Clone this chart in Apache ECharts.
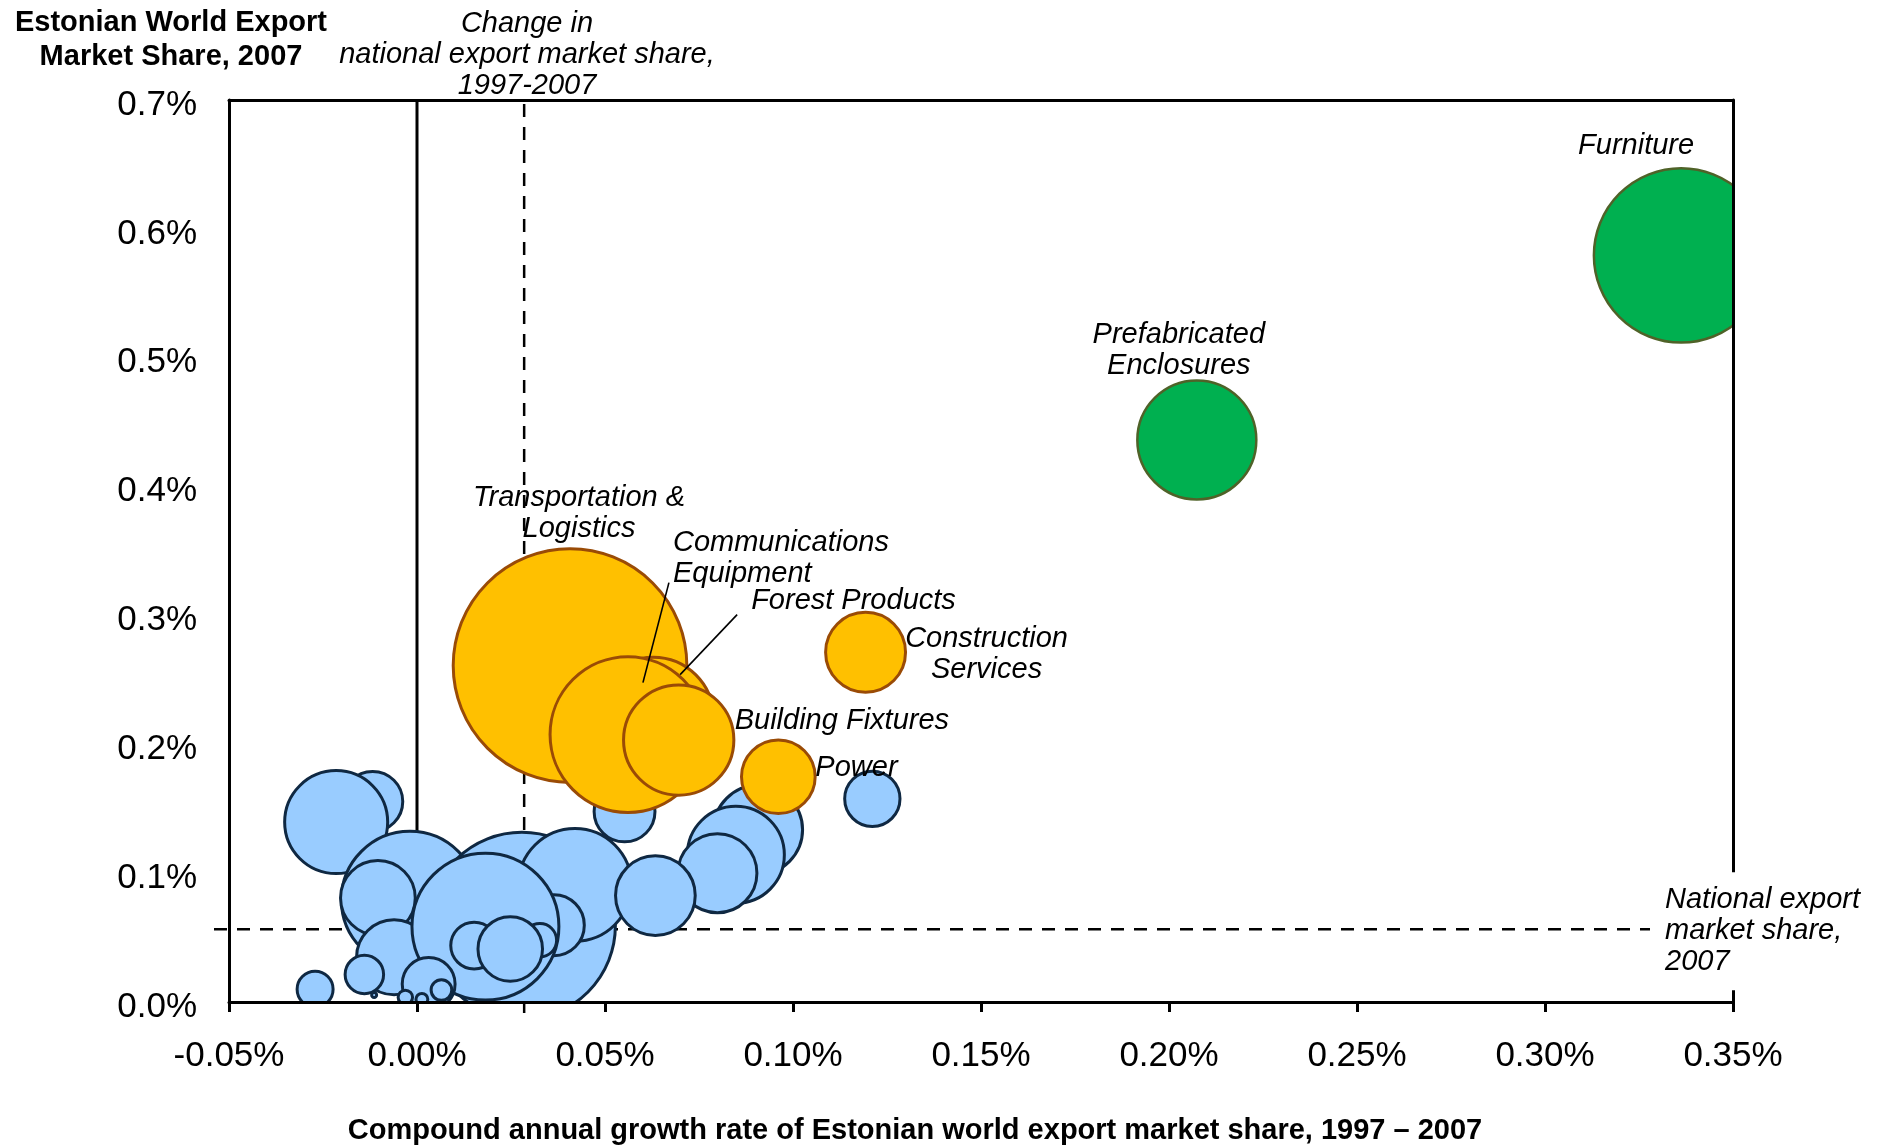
<!DOCTYPE html>
<html>
<head>
<meta charset="utf-8">
<script src="https://cdn.jsdelivr.net/npm/echarts@6/dist/echarts.min.js"></script>
<style>
html,body{margin:0;padding:0;background:#fff;}
#chart{width:1883px;height:1147px;}
</style>
</head>
<body>
<div id="chart"></div>
<script>
// ---------------- data ----------------
const xTickLabels = ['-0.05%', '0.00%', '0.05%', '0.10%', '0.15%', '0.20%', '0.25%', '0.30%', '0.35%'];
const yTickLabels = ['0.0%', '0.1%', '0.2%', '0.3%', '0.4%', '0.5%', '0.6%', '0.7%'];
const xMin = -0.05, xMax = 0.35, xStep = 0.05;
const yMin = 0, yMax = 0.7, yStep = 0.1;

// national reference values (in %)
const nationalShare2007 = 0.0564;
const nationalShareChange = 0.0285;

// other clusters (light blue), drawing order back -> front
const otherGrowth = [-0.0118, -0.0215, -0.0019, -0.0104, -0.0061, -0.0140, -0.0271, -0.0114, 0.0279, 0.0420, 0.0364, 0.0182, 0.0152, 0.0327, 0.0248, 0.0031, 0.0065, -0.0031, 0.0013, 0.0552, 0.0907, 0.0848, 0.0799, 0.0634, 0.1211];
const otherShare  = [0.1556, 0.1396, 0.0793, 0.0808, 0.0347, 0.0214, 0.0099, 0.0054, 0.0591, 0.0909, 0.0596, 0.0585, 0.0438, 0.0479, 0.0412, 0.0140, 0.0093, 0.0036, 0.0021, 0.1479, 0.1336, 0.1142, 0.1000, 0.0826, 0.1577];
const otherSize   = [100, 281, 490, 151, 152, 43, 38, 1.6, 902, 336, 102, 562, 62, 33, 114, 78, 14, 7.6, 5.5, 102, 212, 250, 168, 171, 85];

// highlighted clusters (orange)
const midNames  = ['Transportation &\nLogistics', 'Forest Products', 'Communications\nEquipment', 'Building Fixtures', 'Construction\nServices', 'Power'];
const midGrowth = [0.0407, 0.0628, 0.0561, 0.0696, 0.1193, 0.0961];
const midShare  = [0.2611, 0.2207, 0.2075, 0.2033, 0.2714, 0.1748];
const midSize   = [1400, 384, 630, 321, 172, 147];

// strong clusters (green)
const topNames  = ['Prefabricated\nEnclosures', 'Furniture'];
const topGrowth = [0.2074, 0.3362];
const topShare  = [0.4362, 0.5794];
const topSize   = [372, 787];

// ---------------- styling / layout ----------------
const labelPlacement = {
  'Transportation &\nLogistics': {offset: [9, -152], align: 'center'},
  'Forest Products': {offset: [98, -117], align: 'left'},
  'Communications\nEquipment': {offset: [45, -176], align: 'left'},
  'Building Fixtures': {offset: [56, -19], align: 'left'},
  'Construction\nServices': {offset: [121, 2], align: 'center'},
  'Power': {offset: [37, -9], align: 'left'},
  'Prefabricated\nEnclosures': {offset: [-18, -89], align: 'center'},
  'Furniture': {offset: [-45, -109], align: 'center'}
};
const leaders = {
  'Communications\nEquipment': [[41, -152], [15, -52]],
  'Forest Products': [[84, -103], [27, -43]]
};
const BW = 3;
const FONT = 'Liberation Sans, Arial, sans-serif';
const labelFont = 'italic 29px ' + FONT;

function sizeFn(v) { return 2 * Math.sqrt(v[2] * 10) - BW; }

function build(names, gx, sy, sz) {
  return gx.map((g, i) => {
    const item = {value: [g, sy[i], sz[i]]};
    if (names) {
      const p = labelPlacement[names[i]];
      item.name = names[i];
      item.label = {show: true, position: 'inside', offset: p.offset, align: p.align,
        verticalAlign: 'middle', formatter: '{b}', color: '#000',
        fontFamily: FONT, fontStyle: 'italic', fontSize: 29, lineHeight: 31};
    }
    return item;
  });
}

const chart = echarts.init(document.getElementById('chart'), null, {renderer: 'canvas'});
const gridCfg = {left: 229, right: 150, top: 100, bottom: 145, containLabel: false};
const axisLineStyle = {color: '#000', width: 3};

const option = {
  animation: false,
  backgroundColor: '#fff',
  grid: gridCfg,
  xAxis: [{
    type: 'value', min: xMin, max: xMax, interval: xStep, position: 'bottom', z: 6,
    axisLine: {show: true, onZero: false, lineStyle: axisLineStyle},
    axisTick: {show: true, inside: false, length: 10, lineStyle: {color: '#000', width: 3}},
    splitLine: {show: false},
    axisLabel: {margin: 37, color: '#000', fontFamily: FONT, fontSize: 35,
      formatter: v => xTickLabels[Math.round((v - xMin) / xStep)]}
  }, {
    type: 'value', min: xMin, max: xMax, interval: xStep, position: 'top', z: 6,
    axisLine: {show: true, onZero: false, lineStyle: axisLineStyle},
    axisTick: {show: false}, axisLabel: {show: false}, splitLine: {show: false}
  }],
  yAxis: [{
    type: 'value', min: yMin, max: yMax, interval: yStep, position: 'left', z: 6,
    axisLine: {show: true, onZero: false, lineStyle: axisLineStyle},
    axisTick: {show: false}, splitLine: {show: false},
    axisLabel: {margin: 32, color: '#000', fontFamily: FONT, fontSize: 35,
      rich: {v: {fontFamily: FONT, fontSize: 35, color: '#000', padding: [10, 0, 0, 0]}},
      formatter: v => '{v|' + yTickLabels[Math.round((v - yMin) / yStep)] + '}'}
  }, {
    type: 'value', min: yMin, max: yMax, interval: yStep, position: 'right', z: 6,
    axisLine: {show: true, onZero: false, lineStyle: axisLineStyle},
    axisTick: {show: false}, axisLabel: {show: false}, splitLine: {show: false}
  }],
  series: [{
    name: 'Other', type: 'scatter', clip: true, z: 2,
    data: build(null, otherGrowth, otherShare, otherSize),
    symbolSize: sizeFn,
    itemStyle: {color: '#99CCFF', borderColor: '#0F2842', borderWidth: BW, opacity: 1},
    emphasis: {disabled: true}
  }, {
    name: 'Mid', type: 'scatter', clip: true, z: 3,
    data: build(midNames, midGrowth, midShare, midSize),
    symbolSize: sizeFn,
    itemStyle: {color: '#FFC000', borderColor: '#9A4B06', borderWidth: BW, opacity: 1},
    emphasis: {disabled: true}
  }, {
    name: 'Top', type: 'scatter', clip: true, z: 4,
    data: build(topNames, topGrowth, topShare, topSize),
    symbolSize: sizeFn,
    itemStyle: {color: '#00B050', borderColor: '#4F6228', borderWidth: 2.5, opacity: 1},
    emphasis: {disabled: true}
  }]
};
chart.setOption(option);

// ---------------- reference lines & annotations ----------------
const toPx = (x, y) => chart.convertToPixel({xAxisIndex: 0, yAxisIndex: 0}, [x, y]);
const pTL = toPx(xMin, yMax), pBR = toPx(xMax, yMin);
const gLeft = pTL[0], gTop = pTL[1], gRight = pBR[0], gBottom = pBR[1];
const x0 = toPx(0, 0)[0];
const xd = toPx(nationalShareChange, 0)[0];
const yd = toPx(0, nationalShare2007)[1];

const graphics = [
  // masks clipping bubbles to the plot frame
  {type: 'rect', z: 5, silent: true,
   shape: {x: gRight + 1.5, y: gTop - 2, width: 1883 - gRight, height: gBottom - gTop + 4},
   style: {fill: '#fff'}},
  {type: 'rect', z: 5, silent: true,
   shape: {x: gLeft - 20, y: gBottom + 1.5, width: gRight - gLeft + 40, height: 32},
   style: {fill: '#fff'}},
  // reference lines
  {type: 'line', z: 1, silent: true, shape: {x1: x0, y1: gTop, x2: x0, y2: gBottom},
   style: {stroke: '#000', lineWidth: 3}},
  {type: 'line', z: 1, silent: true, shape: {x1: xd, y1: gTop + 4, x2: xd, y2: gBottom},
   style: {stroke: '#000', lineWidth: 2.5, lineDash: [13, 10]}},
  {type: 'line', z: 7, silent: true, shape: {x1: xd, y1: gBottom + 1.5, x2: xd, y2: gBottom + 11},
   style: {stroke: '#000', lineWidth: 2.5}},
  {type: 'line', z: 1, silent: true, shape: {x1: gLeft - 15, y1: yd, x2: gRight, y2: yd},
   style: {stroke: '#000', lineWidth: 2.5, lineDash: [13, 10]}},
  // texts
  {type: 'text', z: 100, silent: true, x: 171, y: 40,
   style: {text: 'Estonian World Export\nMarket Share, 2007', font: 'bold 29px ' + FONT,
     fill: '#000', align: 'center', verticalAlign: 'middle', lineHeight: 34}},
  {type: 'text', z: 100, silent: true, x: 527, y: 55,
   style: {text: 'Change in\nnational export market share,\n1997-2007', font: labelFont,
     fill: '#000', align: 'center', verticalAlign: 'middle', lineHeight: 31}},
  {type: 'text', z: 100, silent: true, x: 915, y: 1131,
   style: {text: 'Compound annual growth rate of Estonian world export market share, 1997 \u2013 2007',
     font: 'bold 29px ' + FONT, fill: '#000', align: 'center', verticalAlign: 'middle'}},
  {type: 'text', z: 100, silent: true, x: 1650, y: yd + 2,
   style: {text: 'National export\nmarket share,\n2007', font: labelFont, fill: '#000',
     align: 'left', verticalAlign: 'middle', lineHeight: 31,
     backgroundColor: '#fff', padding: [11, 10, 14, 15]}}
];

function addLeader(name, gx, sy) {
  const i = midNames.indexOf(name);
  const c = toPx(gx[i], sy[i]);
  const seg = leaders[name];
  graphics.push({type: 'line', z: 100, silent: true,
    shape: {x1: c[0] + seg[0][0], y1: c[1] + seg[0][1], x2: c[0] + seg[1][0], y2: c[1] + seg[1][1]},
    style: {stroke: '#000', lineWidth: 1.6}});
}
addLeader('Communications\nEquipment', midGrowth, midShare);
addLeader('Forest Products', midGrowth, midShare);

chart.setOption({graphic: graphics});
</script>
</body>
</html>
